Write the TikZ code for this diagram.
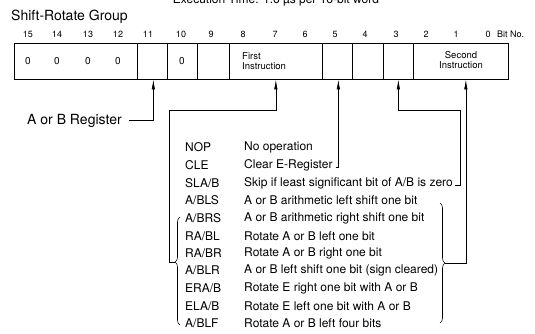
\documentclass[tikz,border=0pt]{standalone}
\usepackage{fontspec}
\setmainfont{TeX Gyre Heros}
\usetikzlibrary{arrows.meta,decorations.pathreplacing,calc}
\begin{document}
\begin{tikzpicture}[x=1pt,y=-1pt,
  lw/.style={line width=0.7pt},
  field/.style={draw,lw,inner sep=0pt,minimum height=36pt,anchor=west},
  bitnum/.style={font=\fontsize{9}{10}\selectfont,inner sep=0pt},
  ftext/.style={font=\fontsize{10}{11}\selectfont,inner sep=0pt},
  itext/.style={font=\fontsize{9.5}{10.5}\selectfont,inner sep=0pt},
  mnem/.style={font=\fontsize{12}{14}\selectfont,anchor=west,inner sep=0pt},
  desc/.style={font=\fontsize{12}{14}\selectfont,anchor=west,inner sep=0pt},
  arr/.style={lw,-{Latex[length=10pt,width=3.4pt]}},
  bracestyle/.style={line width=0.6pt,decorate,decoration={brace,amplitude=5pt,#1}}
]
\useasboundingbox (0,0) rectangle (535,333);

% partly visible heading (cut off at the top edge, as in the reference)
\node[font=\fontsize{12}{14}\selectfont,anchor=base,inner sep=0pt] (exec) at (276,3.5) {Execution Time: 1.6 µs per 16-bit word};

\node[font=\fontsize{14}{16}\selectfont,anchor=west,inner sep=0pt] (title) at (11,17) {Shift-Rotate Group};

% bit numbers
\foreach \b/\x in {15/28,14/57,13/88,12/118,11/148,10/181,9/211,8/243,7/275,6/305,5/335,4/365,3/396,2/426,1/456,0/488}
  \node[bitnum] (b\b) at (\x,34) {\b};
\node[bitnum,anchor=west] (bitno) at (497,34) {Bit No.};

% register fields
\node[field,minimum width=123pt] (f15) at (14,61) {};
\node[field,minimum width=30pt]  (f11) at (137,61) {};
\node[field,minimum width=30pt]  (f10) at (167,61) {};
\node[field,minimum width=32pt]  (f9)  at (197,61) {};
\node[field,minimum width=93pt]  (f86) at (229,61) {};
\node[field,minimum width=30pt]  (f5)  at (322,61) {};
\node[field,minimum width=31pt]  (f4)  at (352,61) {};
\node[field,minimum width=30pt]  (f3)  at (383,61) {};
\node[field,minimum width=95pt]  (f20) at (413,61) {};

\foreach \x/\n in {28/a,57/b,88/c,118/d}
  \node[ftext] (z\n) at (\x,61) {0};
\node[ftext] (z10) at (182,61) {0};
\node[itext,anchor=west,align=left] (first) at (242,61) {First\\Instruction};
\node[itext,align=center] (second) at (461,60) {Second\\Instruction};

% A or B register
\node[font=\fontsize{14}{16}\selectfont,anchor=west,inner sep=0pt] (areg) at (27,121) {A or B Register};
\draw[arr] ([xshift=7pt,yshift=1pt]areg.east) -| ([xshift=1pt]f11.south);

% instruction list
\foreach \m/\d/\y/\n in {
  NOP/No operation/147/1,
  CLE/Clear E-Register/165/2,
  SLA\slash B/Skip if least significant bit of A\slash B is zero/183/3,
  A\slash BLS/A or B arithmetic left shift one bit/200.5/4,
  A\slash BRS/A or B arithmetic right shift one bit/218/5,
  RA\slash BL/Rotate A or B left one bit/236/6,
  RA\slash BR/Rotate A or B right one bit/253/7,
  A\slash BLR/A or B left shift one bit (sign cleared)/270.5/8,
  ERA\slash B/Rotate E right one bit with A or B/288/9,
  ELA\slash B/Rotate E left one bit with A or B/306/10,
  A\slash BLF/Rotate A or B left four bits/323/11}{
  \node[mnem] (m\n) at (185,\y) {\m};
  \node[desc] (d\n) at (244,\y) {\d};
}

% braces
\draw[bracestyle={aspect=0.5}] (440,203) -- (440,323);
\coordinate (rtip) at (445,263);
\draw[bracestyle={aspect=0.583}] (180,325) -- (180,217);
\coordinate (ltip) at (175,262);

% connectors to fields
\coordinate (c7) at (169,110);
\draw[arr] (ltip) -| (c7) -| (f86.south);
\draw[arr] ([xshift=3pt,yshift=-2pt]d2.east) -| ([xshift=1pt]f5.south);
\coordinate (c3) at (460,110);
\draw[arr] ([xshift=2pt,yshift=-2pt]d3.east) -| (c3) -| (f3.south);
\draw[arr] (rtip) -| ([xshift=5pt]f20.south);
\end{tikzpicture}
\end{document}
